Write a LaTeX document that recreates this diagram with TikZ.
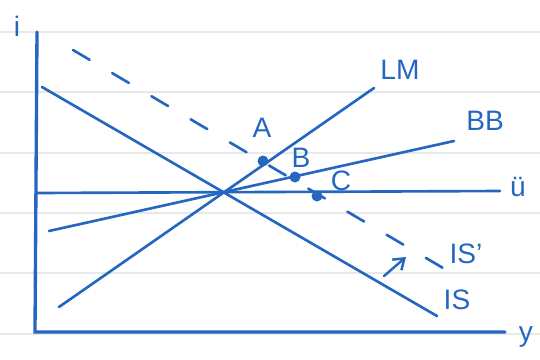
\documentclass[tikz,border=0pt]{standalone}
\usepackage{fontspec}
\setmainfont{Liberation Sans}
\usetikzlibrary{arrows.meta}
\definecolor{cpen}{HTML}{2566C0}
\definecolor{cpaper}{HTML}{E6E8EA}
\tikzset{
  every picture/.style={line width=1.5pt, line cap=round},
  curve/.style={draw=cpen, line width=1.5pt},
  axis/.style={draw=cpen, line width=1.9pt},
  ruled/.style={draw=cpaper, line width=0.8pt},
  lbl/.style={text=cpen, font=\fontsize{16}{16}\selectfont, inner sep=1pt},
  dot/.style={circle, fill=cpen, inner sep=0pt, minimum size=2.2mm},
  shiftarrow/.style={-{Straight Barb[length=2mm, width=2.8mm]}, draw=cpen, line width=1.4pt},
}

\begin{document}
\begin{tikzpicture}[x=0.02cm, y=-0.02cm]
  \useasboundingbox (0,0) rectangle (540,359);
  % ruled paper
  \foreach \y in {32, 92, 153, 213, 273, 334} \draw[ruled] (0,\y) -- (540,\y);
  % axes
  \coordinate (itop) at (37,32);
  \coordinate (o) at (35,332);
  \coordinate (yend) at (505,332);
  \draw[axis] (itop) -- (o) -- (yend);
  \node[lbl] (ilab) at (17,26) {i};
  \node[lbl] (ylab) at (526,337) {y};
  % curves
  \coordinate (is0) at (42,87);    \coordinate (is1) at (437,316);
  \coordinate (lm0) at (59,307);   \coordinate (lm1) at (374,88);
  \coordinate (bb0) at (49,231);   \coordinate (bb1) at (454,141);
  \coordinate (u0) at (37,193);    \coordinate (u1) at (500,191);
  \coordinate (isp0) at (73,50);   \coordinate (isp1) at (443,268);
  \draw[curve] (is0) -- (is1);
  \draw[curve] (lm0) -- (lm1);
  \draw[curve] (bb0) -- (bb1);
  \draw[curve] (u0) -- (u1);
  \draw[curve, dash pattern=on 11pt off 14.9pt] (isp0) -- (isp1);
  \node[lbl] (lmlab) at (400,70) {LM};
  \node[lbl] (bblab) at (485,121) {BB};
  \node[lbl] (ulab) at (518,187) {ü};
  \node[lbl] (isplab) at (466,254) {IS'};
  \node[lbl] (islab) at (457,300) {IS};
  % points
  \node[dot] (A) at (263,161) {};
  \node[dot] (B) at (295,177) {};
  \node[dot] (C) at (317,196) {};
  \node[lbl] (alab) at (262,128) {A};
  \node[lbl] (blab) at (301,158) {B};
  \node[lbl] (clab) at (341,181) {C};
  % shift of IS
  \coordinate (sh0) at (384,276);
  \coordinate (sh1) at (406,257);
  \draw[shiftarrow] (sh0) -- (sh1);
\end{tikzpicture}
\end{document}
